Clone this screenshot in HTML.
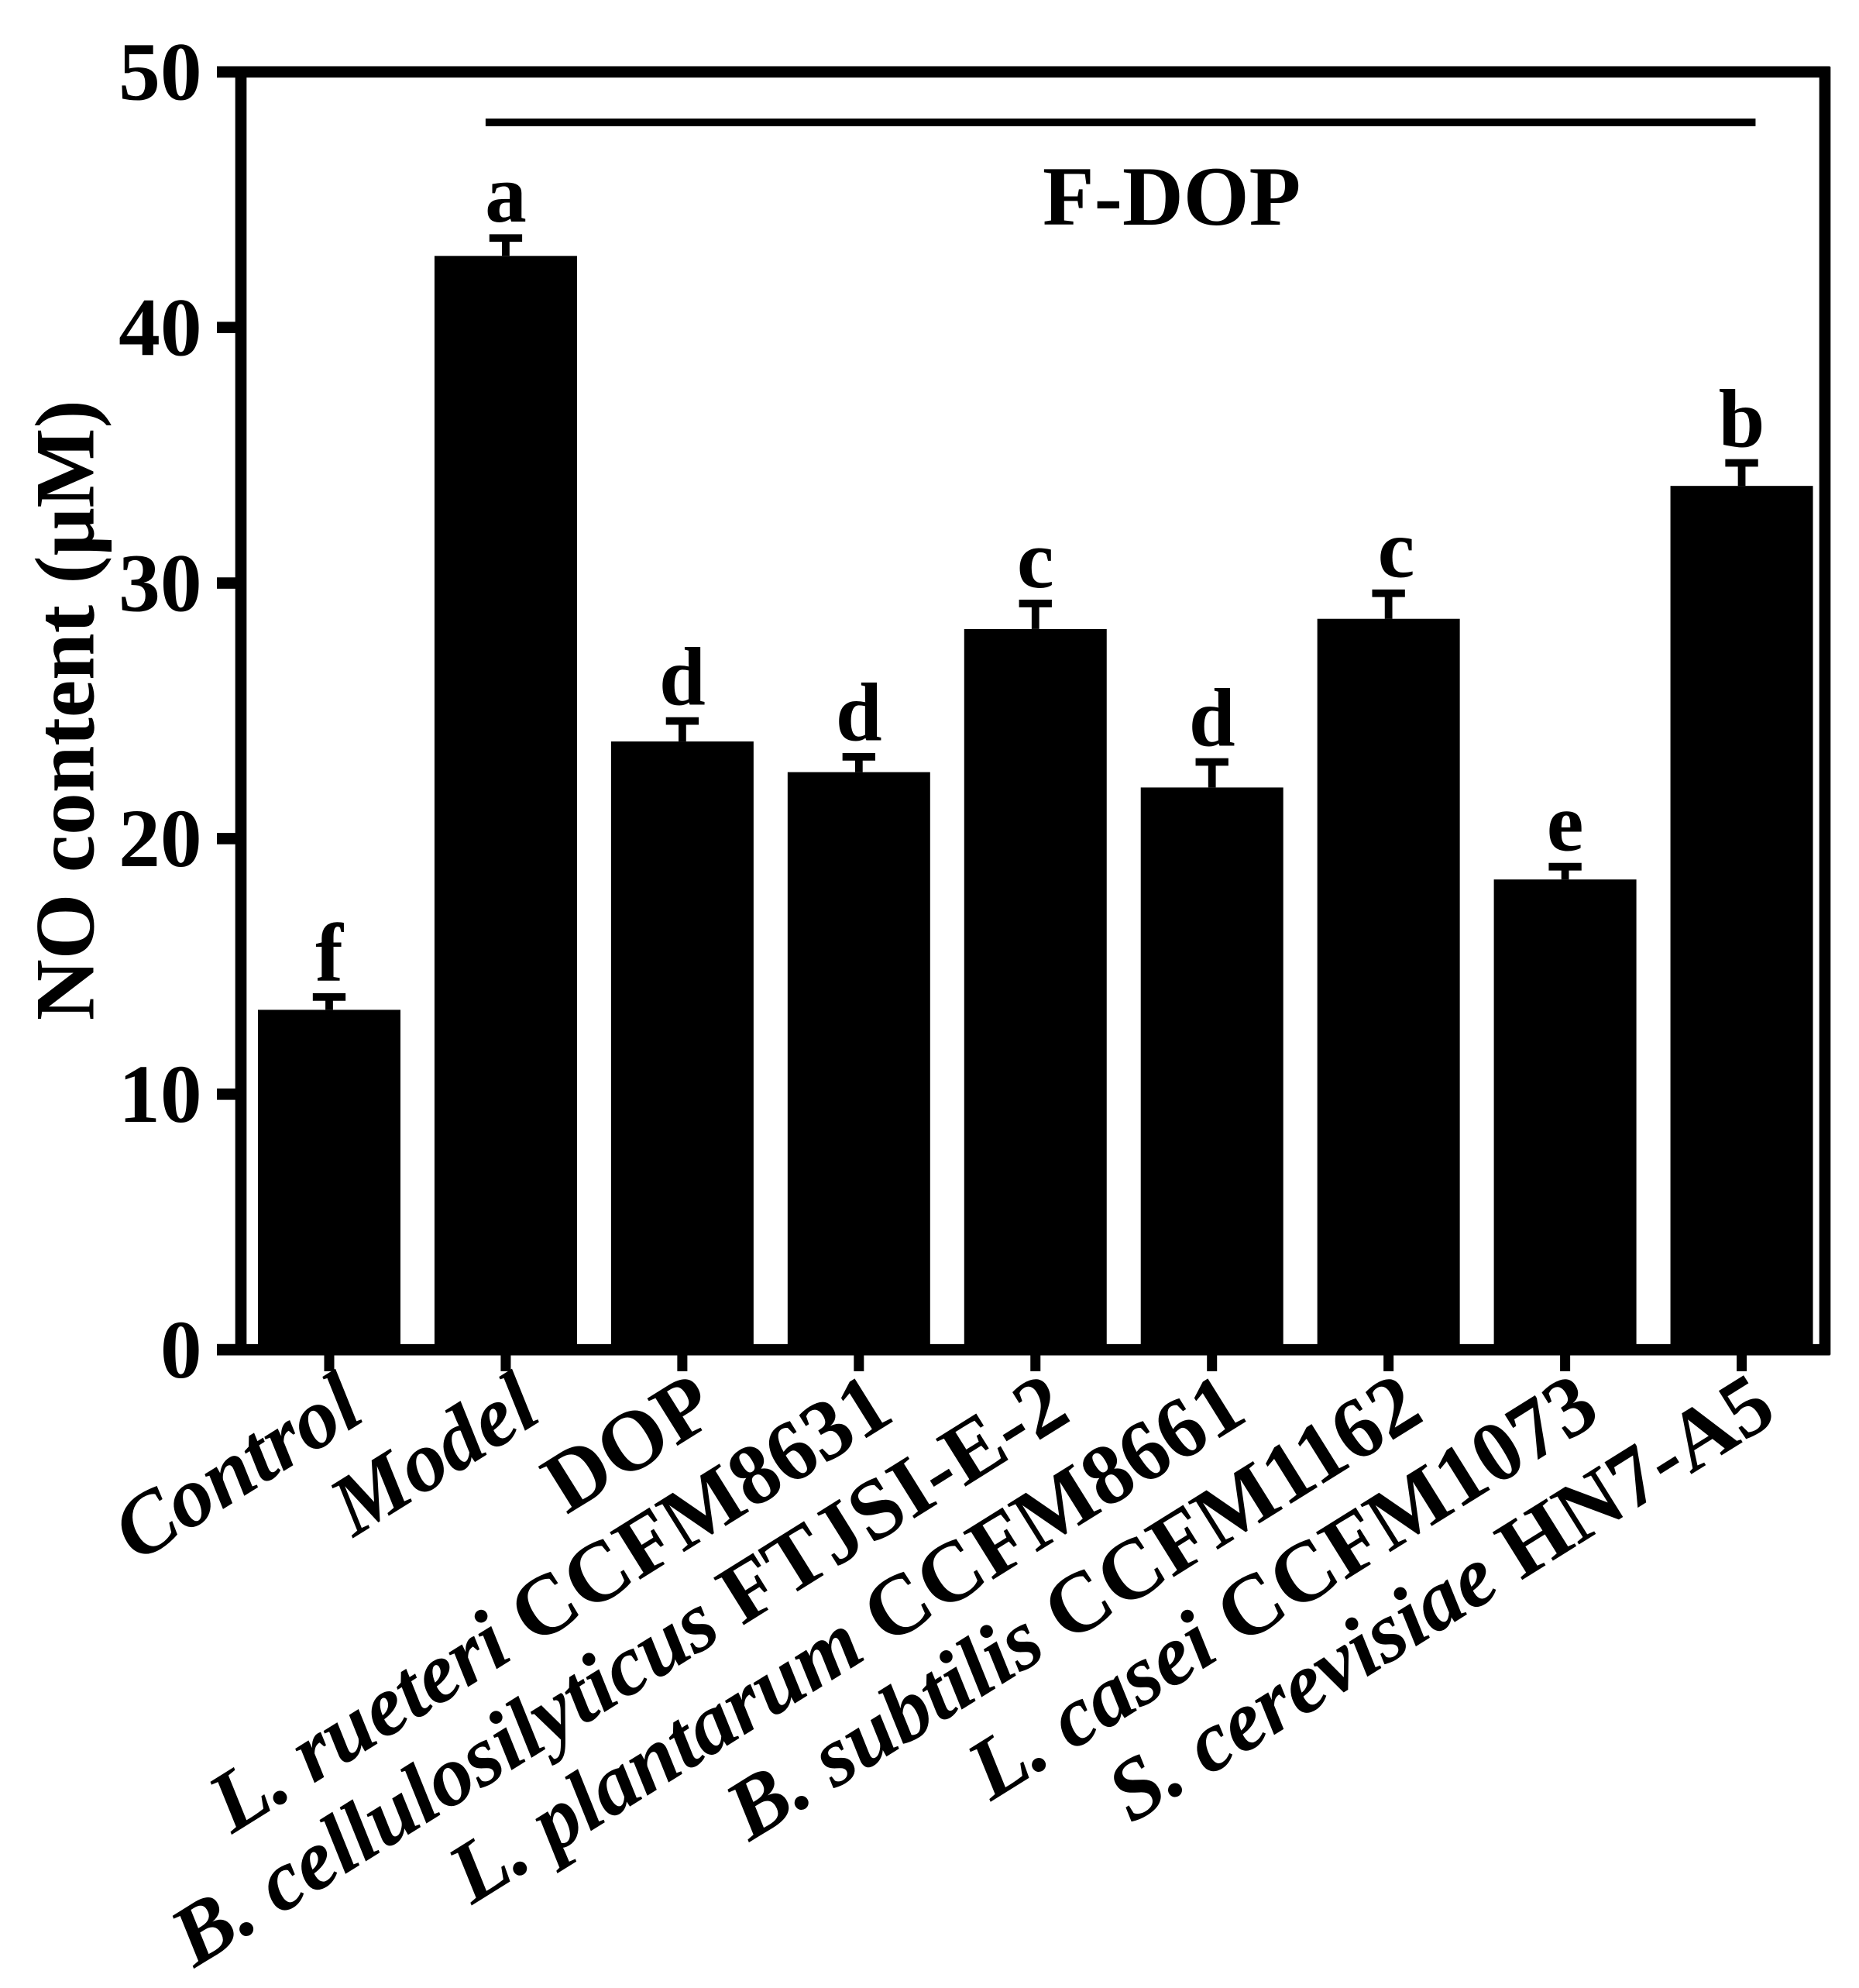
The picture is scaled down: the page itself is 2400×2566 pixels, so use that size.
<!DOCTYPE html>
<html><head><meta charset="utf-8"><style>html,body{margin:0;padding:0;background:#fff}svg{display:block}</style></head>
<body>
<svg id="chart" width="2400" height="2566" viewBox="0 0 1474 1576" xmlns="http://www.w3.org/2000/svg" font-family="'Liberation Serif', serif" font-weight="bold">
<g id="frame">
<line x1="172" y1="57" x2="1451" y2="57" stroke="#000" stroke-width="9"/>
<line x1="191" y1="53" x2="191" y2="1074" stroke="#000" stroke-width="9"/>
<line x1="1447" y1="53" x2="1447" y2="1074" stroke="#000" stroke-width="9"/>
<line x1="172" y1="1070" x2="1451" y2="1070" stroke="#000" stroke-width="9"/>
</g>
<g id="bars"></g>
<g id="axes"></g>
<line x1="385" y1="97" x2="1392" y2="97" stroke="#000" stroke-width="6"/>
<text x="929" y="178" font-size="67" text-anchor="middle">F-DOP</text>
<text transform="translate(74,563) rotate(-90)" font-size="67" text-anchor="middle">NO content (μM)</text>
</svg>
<script>
const categories = ["Control","Model","DOP","L. rueteri|CCFM8631","B. cellulosilyticus|FTJSI-E-2","L. plantarum|CCFM8661","B. subtilis|CCFM1162","L. casei|CCFM1073","S. cerevisiae|HN7-A5"];
const means = [13.3,42.8,23.8,22.6,28.2,22.0,28.6,18.4,33.8];
const errors = [0.5,0.7,0.8,0.6,1.0,1.0,1.0,0.5,0.9];
const letters = ["f","a","d","d","c","d","c","e","b"];
const yTicks = [0,10,20,30,40,50];
const NS="http://www.w3.org/2000/svg";
const y0=1070, y50=57, x0=261, step=140, bw=113;
function yScale(v){return y0-(v/50)*(y0-y50);}
function xScale(i){return x0+i*step;}
const bars=document.getElementById('bars'), axes=document.getElementById('axes');
function mk(tag,attrs,parent){const e=document.createElementNS(NS,tag);for(const k in attrs)e.setAttribute(k,attrs[k]);parent.appendChild(e);return e;}
yTicks.forEach(t=>{
  const y=yScale(t);
  const l=mk('line',{x1:172,y1:y,x2:191,y2:y,stroke:'#000','stroke-width':9},axes);
  
  
  const tx=mk('text',{x:160,y:y+22,'font-size':66,'text-anchor':'end'},axes);
  
  
  tx.textContent=t;
});
categories.forEach((c,i)=>{
  const cx=xScale(i), top=yScale(means[i]), et=yScale(means[i]+errors[i]);
  const r=mk('rect',{x:cx-bw/2,y:top,width:bw,height:y0-top,fill:'#000'},bars);
  
  
  const e=mk('path',{d:`M${cx},${top} V${et} M${cx-13},${et} H${cx+13}`,stroke:'#000','stroke-width':6,fill:'none'},bars);
  
  
  const lt=mk('text',{x:cx+(i==6?6:0),y:et-13,'font-size':66,'text-anchor':'middle'},bars);
  
  
  lt.textContent=letters[i];
  const tk=mk('line',{x1:cx,y1:1070,x2:cx,y2:1087,stroke:'#000','stroke-width':8},axes);
  
  
  const lab=mk('text',{transform:`translate(${cx+30},1125) rotate(-32)`,'font-size':68,'text-anchor':'end'},axes);
  
  
  const parts=c.split('|');
  const s1=mk('tspan',{'font-style':(parts[0]==='DOP'?'normal':'italic')},lab);s1.textContent=parts[0];
  if(parts[1]){const s2=mk('tspan',{},lab);s2.textContent=' '+parts[1];}
});
</script>
</body></html>
